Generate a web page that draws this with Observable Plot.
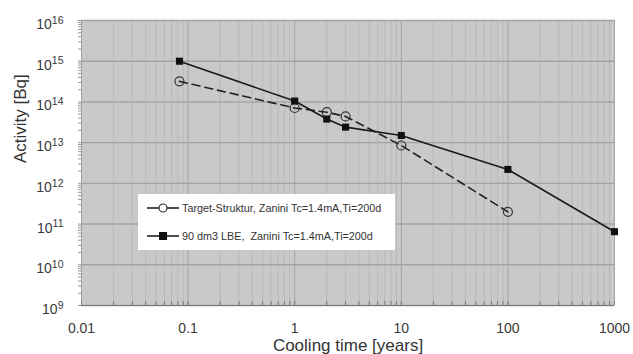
<!DOCTYPE html>
<html>
<head>
<meta charset="utf-8">
<script src="https://cdn.jsdelivr.net/npm/d3@7"></script>
<script src="https://cdn.jsdelivr.net/npm/@observablehq/plot@0.6"></script>
<style>
  html, body { margin: 0; padding: 0; background: #fff; }
  #wrap { position: relative; width: 633px; height: 354px; font-family: "Liberation Sans", Arial, sans-serif; }
  #legend { position: absolute; left: 138px; top: 194px; width: 257px; height: 56px; background: #fff; font-size: 10.8px; color: #333; }
  .row { position: absolute; left: 9px; height: 14px; display: flex; align-items: center; white-space: pre; }
  .row svg { margin-right: 3px; }
</style>
</head>
<body>
<div id="wrap"></div>
<script>
// ---- data ----
const xTicks = [0.01, 0.1, 1, 10, 100, 1000];
const xTickLabels = ["0.01", "0.1", "1", "10", "100", "1000"];
const yExponents = [9, 10, 11, 12, 13, 14, 15, 16];

const lbeYears = [0.083, 1, 2, 3, 10, 100, 1000];
const lbeActivity = [1.0e15, 1.05e14, 3.8e13, 2.4e13, 1.5e13, 2.2e12, 6.5e10];

const targetYears = [0.083, 1, 2, 3, 10, 100];
const targetActivity = [3.2e14, 7.1e13, 5.6e13, 4.4e13, 8.5e12, 2.0e11];

const seriesNames = [
  "Target-Struktur, Zanini Tc=1.4mA,Ti=200d",
  "90 dm3 LBE,  Zanini Tc=1.4mA,Ti=200d"
];
const xTitle = "Cooling time [years]";
const yTitle = "Activity [Bq]";

// ---- derived ----
const lbe = lbeYears.map((x, i) => ({x, y: lbeActivity[i]}));
const target = targetYears.map((x, i) => ({x, y: targetActivity[i]}));
const yTicks = yExponents.map(e => Math.pow(10, e));
const xMinor = [];
for (let k = 0; k < xTicks.length - 1; k++) for (let m = 2; m <= 9; m++) xMinor.push(xTicks[k] * m);
const yMinor = [];
for (let k = 0; k < yTicks.length - 1; k++) for (let m = 1; m <= 9; m++) yMinor.push(yTicks[k] * m);
yMinor.push(yTicks[yTicks.length - 1]);

const chart = Plot.plot({
  width: 633,
  height: 354,
  marginLeft: 81,
  marginRight: 19,
  marginTop: 20,
  marginBottom: 49,
  style: { fontFamily: "Liberation Sans, Arial, sans-serif", background: "transparent", overflow: "visible" },
  x: { type: "log", domain: [0.01, 1000], label: null },
  y: { type: "log", domain: [1e9, 1e16], label: null },
  marks: [
    Plot.frame({ fill: "#c9c9c9", stroke: "#dadada" }),
    Plot.gridX(xMinor, { stroke: "#b9b9b9", strokeOpacity: 1, strokeWidth: 1 }),
    Plot.gridX(xTicks, { stroke: "#a3a3a3", strokeOpacity: 1, strokeWidth: 1 }),
    Plot.gridY(yTicks, { stroke: "#a3a3a3", strokeOpacity: 1, strokeWidth: 1.4 }),
    Plot.ruleY([1e9], { stroke: "#7a7a7a", strokeWidth: 1.2 }),
    Plot.ruleX([0.01], { stroke: "#a0a0a0", strokeWidth: 1 }),
    Plot.axisX(xMinor.concat(xTicks), { tickSize: -4, stroke: "#777", fill: "none", label: null }),
    Plot.axisX(xTicks, { tickSize: 0, tickPadding: 18, fontSize: 14, fill: "#3a3a3a", tickFormat: d => xTickLabels[xTicks.indexOf(d)], label: null }),
    Plot.axisY(yMinor, { tickSize: 3, stroke: "#999", fill: "none", label: null }),
    Plot.axisY(yTicks, { tickSize: 0, tickPadding: 18, fontSize: 14, fill: "#3a3a3a", dy: 4, tickFormat: d => "10^" + Math.round(Math.log10(d)), label: null }),
    Plot.text([xTitle], { frameAnchor: "bottom", dy: 45, fontSize: 17, fill: "#333", lineAnchor: "bottom" }),
    Plot.text([yTitle], { frameAnchor: "left", dx: -61, rotate: -90, fontSize: 17, fill: "#333" }),
    Plot.line(target, { x: "x", y: "y", stroke: "#222", strokeWidth: 1.6, strokeDasharray: "8,5" }),
    Plot.line(lbe, { x: "x", y: "y", stroke: "#1a1a1a", strokeWidth: 1.6 }),
    Plot.dot(target, { x: "x", y: "y", r: 4.5, stroke: "#333", strokeWidth: 1.2, fill: "none" }),
    Plot.dot(lbe, { x: "x", y: "y", symbol: "square", r: 4, fill: "#111", stroke: "none" })
  ]
});

// superscript exponents on y tick labels
d3.select(chart).selectAll("text").each(function () {
  const t = this.textContent;
  const m = /^10\^(\d+)$/.exec(t);
  if (!m) return;
  const sel = d3.select(this);
  sel.text(null);
  sel.append("tspan").text("10");
  sel.append("tspan").attr("dy", "-0.5em").attr("font-size", "10.5px").text(m[1]);
});

const wrap = document.getElementById("wrap");
wrap.appendChild(chart);

// legend
const legend = document.createElement("div");
legend.id = "legend";
const sample = (isSquare) => {
  const mk = isSquare
    ? `<rect x="12" y="3" width="8" height="8" fill="#111"/>`
    : `<circle cx="16" cy="7" r="4" fill="#fff" stroke="#333" stroke-width="1.2"/>`;
  return `<svg width="32" height="14"><line x1="0" y1="7" x2="32" y2="7" stroke="#222" stroke-width="1.6"/>${mk}</svg>`;
};
legend.innerHTML =
  `<div class="row" style="top:7px">${sample(false)}<span>${seriesNames[0]}</span></div>` +
  `<div class="row" style="top:35px">${sample(true)}<span>${seriesNames[1]}</span></div>`;
wrap.appendChild(legend);
</script>
</body>
</html>
